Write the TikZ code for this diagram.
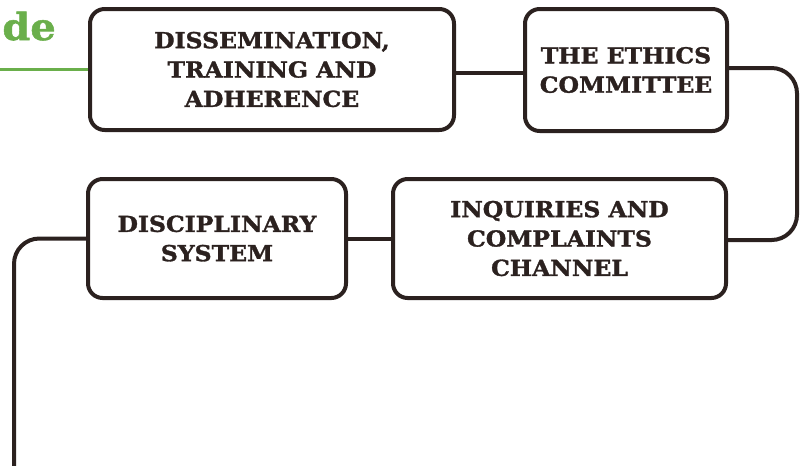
\documentclass[tikz,border=0pt]{standalone}
\usepackage{fontspec}
\setmainfont{DejaVu Serif}
\newfontfamily\heavy{DejaVu Serif}[BoldFeatures={FakeBold=1.4,FakeStretch=1.07}]
\definecolor{ink}{HTML}{2B211F}
\definecolor{leaf}{HTML}{6AAF4B}
\begin{document}
\begin{tikzpicture}[x=0.75pt,y=-0.75pt,
  stagebox/.style={draw=ink, line width=3pt, rounded corners=11pt, inner sep=0pt,
    align=center, text=ink, font=\heavy\bfseries\fontsize{16.5}{22}\selectfont},
  link/.style={draw=ink, line width=3pt},
  corner/.style={rounded corners=19pt}]
\useasboundingbox (0,0) rectangle (800,465);
\begin{scope}
\clip (0,0) rectangle (800,465);

% heading fragment and its rule
\node[anchor=base east, inner sep=0pt, text=leaf, font=\heavy\bfseries\fontsize{28}{28}\selectfont] (tag) at (56,40) {de};

% the four stages
\node[stagebox, minimum width=273pt, minimum height=90.75pt] (b1) at (272,69.5)
  {DISSEMINATION,\\TRAINING AND\\ADHERENCE};
\node[stagebox, minimum width=151.5pt, minimum height=91.5pt] (b2) at (626,70)
  {THE ETHICS\\COMMITTEE};
\node[stagebox, minimum width=249.75pt, minimum height=89.25pt] (b3) at (559.5,238.5)
  {INQUIRIES AND\\COMPLAINTS\\CHANNEL};
\node[stagebox, minimum width=193.5pt, minimum height=89.25pt] (b4) at (217,238.5)
  {DISCIPLINARY\\SYSTEM};

% helper points for the connector routes
\coordinate (g0) at (0,69);
\coordinate (m1) at (490,73);
\coordinate (r1) at (797,68);
\coordinate (r2) at (797,240);
\coordinate (l1) at (14,238.5);
\coordinate (l2) at (14,480);

\draw[draw=leaf, line width=2.25pt] (g0) -- (b1.west |- g0);
\draw[link] (b1.east |- m1) -- (b2.west |- m1);
\draw[link, corner] (b2.east |- r1) -- (r1) -- (r2) -- (b3.east |- r2);
\draw[link] (b3.west) -- (b4.east);
\draw[link, corner] (b4.west) -- (l1) -- (l2);
\end{scope}
\end{tikzpicture}
\end{document}
